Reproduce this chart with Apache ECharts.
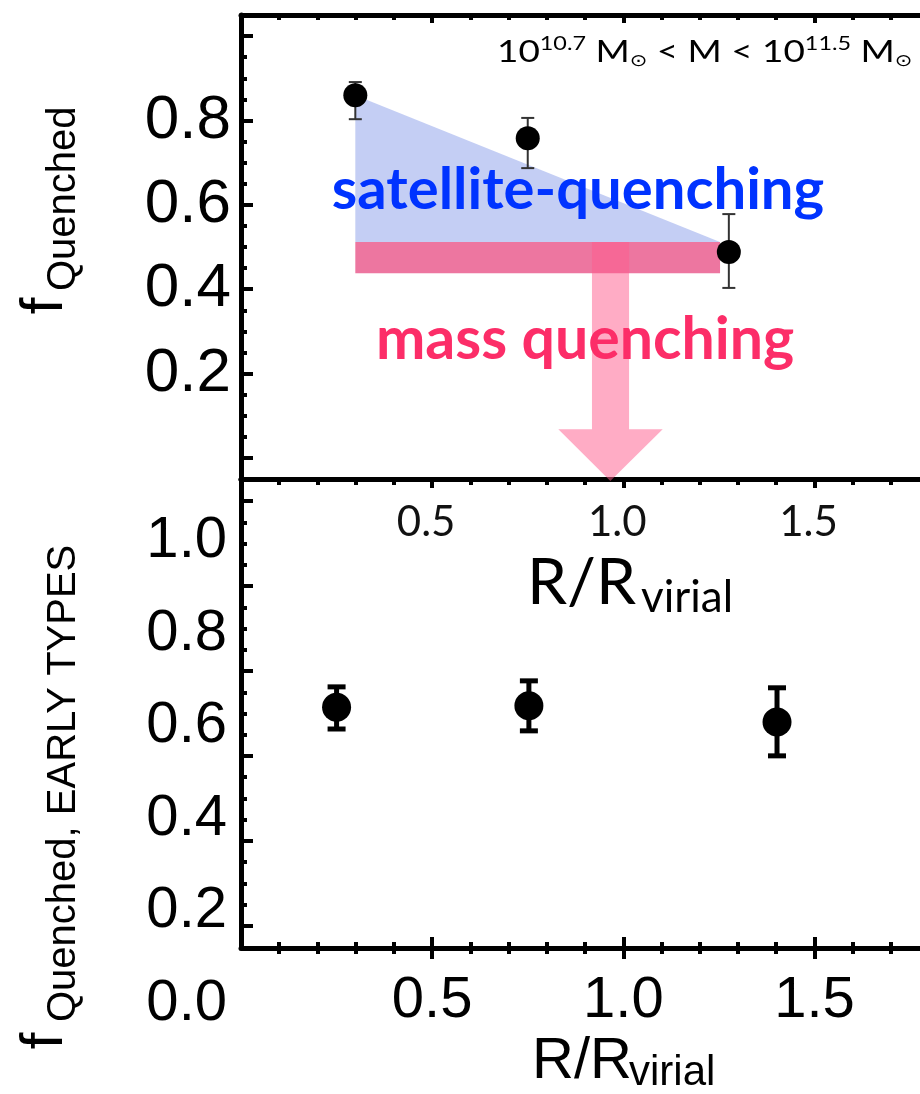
<!DOCTYPE html>
<html>
<head>
<meta charset="utf-8">
<script src="https://cdn.jsdelivr.net/npm/echarts@6/dist/echarts.min.js"></script>
<style>
  html, body { margin: 0; padding: 0; background: #fff; }
  #chart { width: 920px; height: 1094px; }
</style>
</head>
<body>
<div id="chart"></div>
<script>
// top panel: all satellites, 10^10.7 < M < 10^11.5
const topR = [0.299, 0.75, 1.276];
const topF = [0.860, 0.758, 0.488];
const topLow = [0.803, 0.687, 0.403];
const topHigh = [0.891, 0.806, 0.578];

// bottom panel: early types only
const botR = [0.25, 0.753, 1.402];
const botF = [0.641, 0.644, 0.609];
const botLow = [0.594, 0.590, 0.536];
const botHigh = [0.685, 0.698, 0.683];

// ticks and labels
const xMajor = [0.5, 1.0, 1.5];
const xMinor = [0.1, 0.2, 0.3, 0.4, 0.6, 0.7, 0.8, 0.9, 1.1, 1.2, 1.3, 1.4, 1.6, 1.7];
const yMajor = [0, 0.2, 0.4, 0.6, 0.8, 1.0];
const yMinor = [0.05, 0.1, 0.15, 0.25, 0.3, 0.35, 0.45, 0.5, 0.55, 0.65, 0.7, 0.75, 0.85, 0.9, 0.95];
const topYLabels = [0.2, 0.4, 0.6, 0.8];
const botYLabels = [0, 0.2, 0.4, 0.6, 0.8, 1.0];

// annotation shapes, in top-panel data units
const satTriangle = [[0.299, 0.860], [0.299, 0.512], [1.253, 0.512]];
const massBar = [[0.299, 0.512], [1.253, 0.512], [1.253, 0.438], [0.299, 0.438]];
const massArrow = [[0.918, 0.512], [1.015, 0.512], [1.015, 0.068], [1.103, 0.068],
                   [0.966, -0.055], [0.830, 0.068], [0.918, 0.068]];

const XMAX = 1.776;
const black = '#000';
const helv = 'Liberation Sans';
const calibri = 'Lato';

function xAx(grid, pos, o) {
  return Object.assign({
    gridIndex: grid, type: 'value', min: 0, max: XMAX, position: pos,
    axisLine: { show: false, onZero: false },
    axisTick: { show: false },
    axisLabel: { show: false },
    splitLine: { show: false }
  }, o);
}
function yAx(grid, min, max, o) {
  return Object.assign({
    gridIndex: grid, type: 'value', min, max, position: 'left',
    axisLine: { show: false, onZero: false },
    axisTick: { show: false },
    axisLabel: { show: false },
    splitLine: { show: false }
  }, o);
}
const line = { show: true, onZero: false, lineStyle: { color: black, width: 5 } };
function ticks(vals, len, inside) {
  return { show: true, inside, length: len, customValues: vals, lineStyle: { color: black, width: 4 } };
}

function polygon(points, fill, z) {
  return {
    type: 'custom', xAxisIndex: 0, yAxisIndex: 0, z, silent: true, clip: false,
    data: [points[0]],
    renderItem: (params, api) => ({
      type: 'polygon',
      shape: { points: points.map(p => api.coord(p)) },
      style: { fill }
    })
  };
}

function errorBars(xi, yi, xs, lo, hi, capHalf, width, color, z) {
  return {
    type: 'custom', xAxisIndex: xi, yAxisIndex: yi, z, silent: true,
    data: xs.map((x, i) => [x, lo[i], hi[i]]),
    encode: { x: 0, y: [1, 2] },
    renderItem: (params, api) => {
      const a = api.coord([api.value(0), api.value(1)]);
      const b = api.coord([api.value(0), api.value(2)]);
      const style = { stroke: color, lineWidth: width };
      return {
        type: 'group',
        children: [
          { type: 'line', shape: { x1: a[0], y1: a[1], x2: b[0], y2: b[1] }, style },
          { type: 'line', shape: { x1: a[0] - capHalf, y1: a[1], x2: a[0] + capHalf, y2: a[1] }, style },
          { type: 'line', shape: { x1: b[0] - capHalf, y1: b[1], x2: b[0] + capHalf, y2: b[1] }, style }
        ]
      };
    }
  };
}

const chart = echarts.init(document.getElementById('chart'));

chart.setOption({
  animation: false,
  backgroundColor: '#fff',
  grid: [
    { left: 241, top: 15, width: 689, height: 464 },
    { left: 241, top: 479, width: 689, height: 469 },
    { left: 241, top: 479, width: 689, height: 525 }
  ],
  xAxis: [
    // top panel
    xAx(0, 'top', { axisLine: line, axisTick: ticks(xMajor, 8, true) }),
    xAx(0, 'top', { axisTick: ticks(xMinor, 5, true) }),
    xAx(0, 'bottom', {
      axisLine: line,
      axisLabel: {
        show: true, customValues: xMajor, margin: 22, fontFamily: calibri, fontSize: 42,
        lineHeight: 42, color: '#111', padding: [0, 12, 0, 0], formatter: v => v.toFixed(1)
      }
    }),
    // bottom panel frame
    xAx(1, 'top', { axisLine: line, axisTick: ticks(xMajor, 9, true) }),
    xAx(1, 'top', { axisTick: ticks(xMinor, 6, true) }),
    xAx(1, 'bottom', {
      axisLine: line,
      axisLabel: {
        show: true, customValues: xMajor, margin: 24, fontFamily: helv, fontSize: 58,
        lineHeight: 58, color: '#000', formatter: v => v.toFixed(1)
      }
    }),
    xAx(1, 'bottom', { offset: -11, axisTick: ticks(xMajor, 22, false) }),
    xAx(1, 'bottom', { offset: -6, axisTick: ticks(xMinor, 12, false) }),
    // bottom panel data
    xAx(2, 'bottom', {})
  ],
  yAxis: [
    yAx(0, -0.05, 1.05, {
      axisLine: line, axisTick: ticks(yMajor, 12, true),
      axisLabel: {
        show: true, customValues: topYLabels, margin: 10, fontFamily: helv, fontSize: 62,
        color: '#000', formatter: v => v.toFixed(1)
      }
    }),
    yAx(0, -0.05, 1.05, { axisTick: ticks(yMinor, 6, true) }),
    yAx(1, -0.052, 1.052, { axisLine: line, axisTick: ticks(yMajor, 12, true) }),
    yAx(1, -0.052, 1.052, { axisTick: ticks(yMinor, 6, true) }),
    yAx(2, 0, 1.134, {
      axisLabel: {
        show: true, customValues: botYLabels, margin: 14, fontFamily: helv, fontSize: 58,
        color: '#000', formatter: v => v.toFixed(1)
      }
    })
  ],
  series: [
    polygon(satTriangle, 'rgba(100,125,225,0.38)', 1),
    polygon(massBar, 'rgba(230,60,120,0.7)', 2),
    polygon(massArrow, 'rgba(255,90,140,0.5)', 3),
    errorBars(0, 0, topR, topLow, topHigh, 6.5, 2, '#333', 5),
    {
      type: 'scatter', xAxisIndex: 0, yAxisIndex: 0, z: 6, silent: true,
      symbol: 'circle', symbolSize: 24, itemStyle: { color: black, opacity: 1 },
      data: topR.map((r, i) => [r, topF[i]])
    },
    errorBars(8, 4, botR, botLow, botHigh, 9, 5, black, 5),
    {
      type: 'scatter', xAxisIndex: 8, yAxisIndex: 4, z: 6, silent: true,
      symbol: 'circle', symbolSize: 29, itemStyle: { color: black, opacity: 1 },
      data: botR.map((r, i) => [r, botF[i]])
    }
  ],
  graphic: [
    {
      type: 'text', x: 497, y: 52, z: 100, scaleX: 1.23,
      style: {
        text: '{b|10}{s|10.7}{b| M}{o|⊙}{b| < M < 10}{s|11.5}{b| M}{o|⊙}',
        align: 'left', verticalAlign: 'middle', fill: '#000',
        rich: {
          b: { fontFamily: calibri, fontSize: 30, lineHeight: 36, verticalAlign: 'middle', fill: '#000' },
          s: { fontFamily: calibri, fontSize: 19, lineHeight: 20, verticalAlign: 'top', fill: '#000' },
          o: { fontFamily: 'DejaVu Sans', fontSize: 17, lineHeight: 19, verticalAlign: 'bottom', fill: '#000' }
        }
      }
    },
    {
      type: 'text', x: 578, y: 190, z: 100,
      style: {
        text: 'satellite-quenching', align: 'center', verticalAlign: 'middle',
        fontFamily: calibri, fontWeight: 'bold', fontSize: 58, fill: '#0033ff'
      }
    },
    {
      type: 'text', x: 585, y: 340, z: 100,
      style: {
        text: 'mass quenching', align: 'center', verticalAlign: 'middle',
        fontFamily: calibri, fontWeight: 'bold', fontSize: 59, fill: '#fc2d68'
      }
    },
    // top panel x title
    {
      type: 'text', x: 527, y: 583, z: 100,
      style: { text: 'R/R', align: 'left', verticalAlign: 'middle', fontFamily: calibri, fontSize: 64, fill: '#000' }
    },
    {
      type: 'text', x: 641, y: 598, z: 100,
      style: { text: 'virial', align: 'left', verticalAlign: 'middle', fontFamily: calibri, fontSize: 44, fill: '#000' }
    },
    // bottom panel x title
    {
      type: 'text', x: 532, y: 1062, z: 100,
      style: { text: 'R/R', align: 'left', verticalAlign: 'middle', fontFamily: helv, fontSize: 58, fill: '#000' }
    },
    {
      type: 'text', x: 629, y: 1073, z: 100,
      style: { text: 'virial', align: 'left', verticalAlign: 'middle', fontFamily: helv, fontSize: 42, fill: '#000' }
    },
    // top panel y title
    {
      type: 'text', x: 45, y: 306, rotation: Math.PI / 2, z: 100,
      style: { text: 'f', align: 'center', verticalAlign: 'middle', fontFamily: helv, fontSize: 60, fill: '#000' }
    },
    {
      type: 'text', x: 64, y: 291, rotation: Math.PI / 2, z: 100,
      style: { text: 'Quenched', align: 'left', verticalAlign: 'middle', fontFamily: helv, fontSize: 40, fill: '#000' }
    },
    // bottom panel y title
    {
      type: 'text', x: 45, y: 1041, rotation: Math.PI / 2, z: 100,
      style: { text: 'f', align: 'center', verticalAlign: 'middle', fontFamily: helv, fontSize: 60, fill: '#000' }
    },
    {
      type: 'text', x: 64, y: 1022, rotation: Math.PI / 2, z: 100,
      style: { text: 'Quenched, EARLY TYPES', align: 'left', verticalAlign: 'middle', fontFamily: helv, fontSize: 40, fill: '#000' }
    }
  ]
});
</script>
</body>
</html>
